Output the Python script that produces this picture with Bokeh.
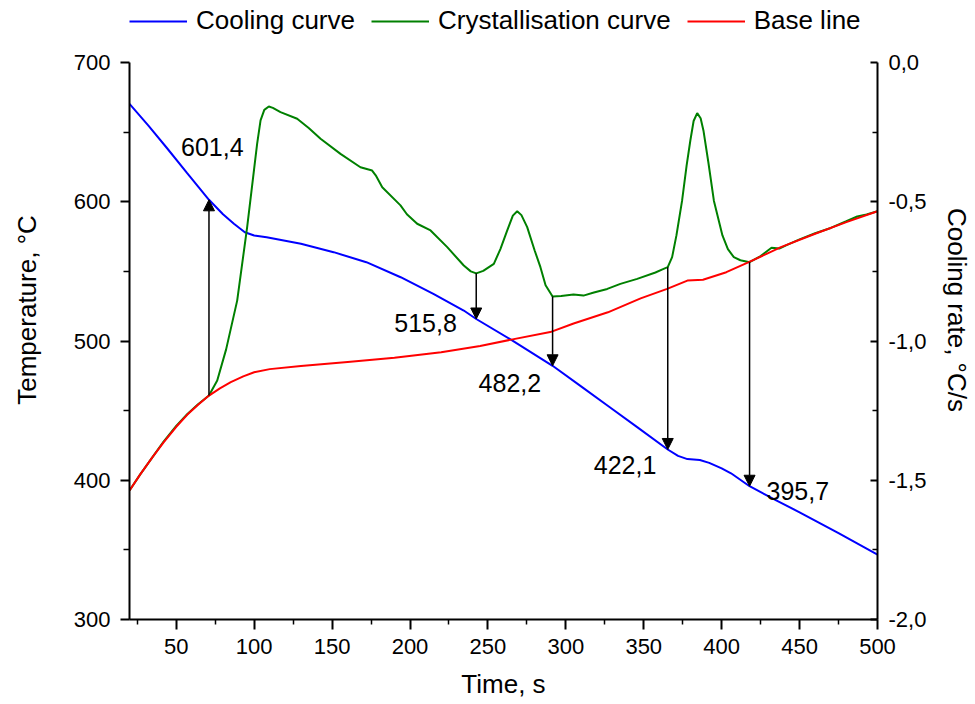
from bokeh.plotting import figure
from bokeh.models import (Range1d, LinearAxis, FixedTicker, CustomJSTickFormatter,
                          Legend, LegendItem, Arrow, NormalHead, ColumnDataSource)
from bokeh.core.properties import value
from bokeh.embed import file_html
from bokeh.resources import INLINE

# Cooling curve: time (s) and temperature (°C)
cool_t = [20, 32, 44, 57, 71, 80, 87, 94, 100, 108, 130, 151, 172, 194, 215,
          234.5, 242.5, 264.5, 291.5, 310, 328, 346, 365.4, 372, 378, 386, 392,
          400, 406, 417.9, 435, 450, 475, 500]
cool_T = [670.3, 654.8, 638.6, 620.5, 601.4, 591, 584.2, 578.1, 575.8, 574.5,
          569.8, 563.8, 556.6, 545.8, 533.9, 521.9, 515.8, 501.1, 482.2, 467.2,
          452.6, 438, 422.1, 417.5, 415.2, 414.5, 412.5, 408.5, 405, 395.7,
          385.5, 377, 362, 346.5]

# Crystallisation curve: time (s) and cooling rate (°C/s)
cryst_t = [20, 27, 35, 42, 50, 57, 64, 71, 76.3, 82, 89.1, 95.5, 101.9, 104.1,
           106.5, 109.4, 112, 116.9, 127.6, 135, 142.6, 155.4, 168.2, 175.7, 178,
           182.2, 193.9, 198, 204.6, 213.2, 223.9, 234.5, 239, 242.5, 247, 253.8,
           258, 262.4, 266, 268.8, 271.5, 275.2, 280, 283.7, 287, 291.5, 297,
           304.9, 311.3, 318, 326.6, 335, 345.8, 357.5, 362, 365.4, 368.2, 371,
           374.6, 377.5, 379.9, 382, 384.3, 386.5, 388.3, 391.5, 395, 400.5, 404,
           407.8, 412, 417.9, 425, 432, 437, 442, 450, 460, 470, 480, 487, 493, 500]
cryst_r = [-1.537, -1.478, -1.415, -1.360, -1.305, -1.263, -1.227, -1.196,
           -1.142, -1.030, -0.855, -0.591, -0.292, -0.208, -0.170, -0.158,
           -0.163, -0.178, -0.202, -0.235, -0.274, -0.328, -0.376, -0.388,
           -0.405, -0.448, -0.513, -0.545, -0.579, -0.603, -0.663, -0.729,
           -0.750, -0.757, -0.748, -0.723, -0.670, -0.603, -0.550, -0.534,
           -0.548, -0.591, -0.675, -0.735, -0.800, -0.840, -0.838, -0.833,
           -0.837, -0.826, -0.813, -0.795, -0.777, -0.754, -0.743, -0.735,
           -0.699, -0.620, -0.496, -0.370, -0.280, -0.210, -0.182, -0.200,
           -0.244, -0.360, -0.496, -0.621, -0.670, -0.699, -0.710, -0.717,
           -0.695, -0.665, -0.668, -0.655, -0.635, -0.613, -0.594, -0.570,
           -0.553, -0.546, -0.534]

# Base line: time (s) and cooling rate (°C/s)
base_t = [20, 27, 35, 42, 50, 57, 64, 71, 78, 85, 93, 100, 110, 130, 160, 190,
          220, 245, 265, 290, 305, 327, 348, 365, 378, 388, 403, 417.4, 438,
          460, 480, 500]
base_r = [-1.537, -1.478, -1.415, -1.363, -1.308, -1.265, -1.229, -1.196,
          -1.170, -1.148, -1.127, -1.112, -1.101, -1.090, -1.075, -1.060,
          -1.040, -1.018, -0.995, -0.968, -0.937, -0.897, -0.847, -0.813,
          -0.783, -0.780, -0.753, -0.717, -0.663, -0.615, -0.573, -0.534]

# Characteristic points: time (s), temperature on the cooling curve (°C)
event_t = [71, 242.5, 291.5, 365.4, 417.9]
event_T = [601.4, 515.8, 482.2, 422.1, 395.7]
# cooling rate where each arrow leaves the crystallisation curve (°C/s)
event_r = [-1.196, -0.757, -0.840, -0.735, -0.717]

series_names = ["Cooling curve", "Crystallisation curve", "Base line"]
series_colors = ["#0000ff", "#008000", "#ff0000"]

# axis ranges and ticks
time_lim = (20, 500)
temp_lim = (300, 700)
rate_lim = (-2.0, 0.0)
time_ticks = [50, 100, 150, 200, 250, 300, 350, 400, 450, 500]
time_minor = [25, 75, 125, 175, 225, 275, 325, 375, 425, 475]
temp_ticks = [300, 400, 500, 600, 700]
temp_minor = [350, 450, 550, 650]
rate_ticks = [-2.0, -1.5, -1.0, -0.5, 0.0]
rate_minor = [-1.75, -1.25, -0.75, -0.25]

FONT = "Liberation Sans"
W, H = 975, 704
BORDER_BOTTOM = 85
HEADROOM = 62          # px above the axes area kept free for the legend row
AXES_H = H - BORDER_BOTTOM - HEADROOM
head = HEADROOM / AXES_H   # headroom as a fraction of an axis span


def rate_to_temp(r):
    """Map a cooling-rate value onto the temperature scale of the left axis."""
    return temp_lim[0] + (r - rate_lim[0]) * (temp_lim[1] - temp_lim[0]) / (rate_lim[1] - rate_lim[0])


temp_top = temp_lim[1] + head * (temp_lim[1] - temp_lim[0])
rate_top = rate_lim[1] + head * (rate_lim[1] - rate_lim[0])

p = figure(width=W, height=H, output_backend="svg", toolbar_location=None,
           x_range=Range1d(*time_lim), y_range=Range1d(temp_lim[0], temp_top),
           min_border_left=129, min_border_right=98, min_border_top=0,
           min_border_bottom=BORDER_BOTTOM)
p.extra_y_ranges = {"rate": Range1d(rate_lim[0], rate_top)}
p.grid.visible = False
p.outline_line_color = None
p.background_fill_color = "white"
p.border_fill_color = "white"


def style_axis(ax, label_standoff, title_standoff):
    ax.axis_line_width = 2
    ax.axis_line_color = "black"
    ax.major_tick_line_width = 2
    ax.minor_tick_line_width = 1.5
    ax.major_tick_line_color = "black"
    ax.minor_tick_line_color = "black"
    ax.major_label_text_font = FONT
    ax.major_label_text_font_size = "22px"
    ax.major_label_text_color = "black"
    ax.major_label_standoff = label_standoff
    ax.axis_label_text_font = FONT
    ax.axis_label_text_font_size = "26px"
    ax.axis_label_text_font_style = "normal"
    ax.axis_label_text_color = "black"
    ax.axis_label_standoff = title_standoff


xa = p.xaxis[0]
xa.axis_label = "Time, s"
xa.ticker = FixedTicker(ticks=time_ticks, minor_ticks=time_minor)
style_axis(xa, 9, 12)
xa.major_tick_out, xa.major_tick_in = 10, 0
xa.minor_tick_out, xa.minor_tick_in = 5, 0

ya = p.yaxis[0]
ya.axis_label = "Temperature, °C"
ya.bounds = temp_lim
ya.ticker = FixedTicker(ticks=temp_ticks, minor_ticks=temp_minor)
style_axis(ya, 10, 29)
ya.major_tick_out, ya.major_tick_in = 9, 0
ya.minor_tick_out, ya.minor_tick_in = 6, 0

ra = LinearAxis(y_range_name="rate", axis_label="Cooling rate, °C/s", bounds=rate_lim,
                ticker=FixedTicker(ticks=rate_ticks, minor_ticks=rate_minor),
                formatter=CustomJSTickFormatter(code="return tick.toFixed(1).replace('.', ',');"))
style_axis(ra, 11, 13)
ra.major_tick_out, ra.major_tick_in = 0, 7
ra.minor_tick_out, ra.minor_tick_in = 0, 5
p.add_layout(ra, "right")

# curves
r_cool = p.line(cool_t, cool_T, line_color=series_colors[0], line_width=2)
r_cryst = p.line(cryst_t, cryst_r, line_color=series_colors[1], line_width=2, y_range_name="rate")
r_base = p.line(base_t, base_r, line_color=series_colors[2], line_width=2, y_range_name="rate")

# arrows from the crystallisation curve to the cooling curve
for t, T, r in zip(event_t, event_T, event_r):
    p.add_layout(Arrow(x_start=t, y_start=rate_to_temp(r), x_end=t, y_end=T,
                       line_color="black", line_width=1.5,
                       end=NormalHead(size=11, fill_color="black", line_color="black",
                                      line_width=1)))

# temperature labels next to the arrow tips
lbl_dx = [-28, -82, -74, -74, 17]
lbl_dy = [-53, 4, 17, 16, 5]
lbl_src = ColumnDataSource(dict(
    x=event_t, y=event_T,
    text=[f"{v:.1f}".replace(".", ",") for v in event_T],
    dx=lbl_dx, dy=lbl_dy))
p.text(x="x", y="y", text="text", x_offset="dx", y_offset="dy", source=lbl_src,
       text_font=value(FONT), text_font_size="25px", text_color="black",
       text_align="left", text_baseline="middle")

# legend row in the free band above the axes
legend = Legend(items=[LegendItem(label=n, renderers=[r])
                       for n, r in zip(series_names, [r_cool, r_cryst, r_base])],
                orientation="horizontal", location=(0, AXES_H + HEADROOM - 36),
                label_text_font=FONT, label_text_font_size="26px",
                label_text_color="black", glyph_width=58, glyph_height=24,
                label_standoff=9, spacing=16, padding=0, margin=0,
                border_line_alpha=0, background_fill_alpha=0)
p.add_layout(legend)

open("out.html", "w").write(file_html(p, INLINE))
